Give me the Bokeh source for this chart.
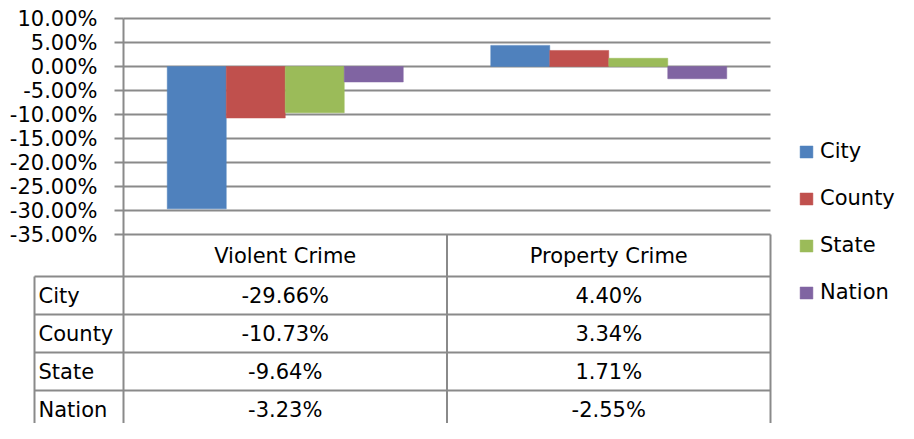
from bokeh.plotting import figure
from bokeh.models import (Range1d, LinearAxis, FixedTicker, NumeralTickFormatter,
                          Legend, LegendItem, ColumnDataSource)
from bokeh.core.properties import value
from bokeh.embed import file_html
from bokeh.resources import INLINE

# ---------------- data ----------------
CATEGORIES = ["Violent Crime", "Property Crime"]
SERIES = ["City", "County", "State", "Nation"]
CITY = [-29.66, 4.40]
COUNTY = [-10.73, 3.34]
STATE = [-9.64, 1.71]
NATION = [-3.23, -2.55]
COLORS = ["#4F81BD", "#C0504D", "#9BBB59", "#8064A2"]
TICKS = [-0.35, -0.30, -0.25, -0.20, -0.15, -0.10, -0.05, 0.0, 0.05, 0.10]

VALUES = [CITY, COUNTY, STATE, NATION]

# ---------------- layout constants (pixels) ----------------
W, H = 898, 423
CAT_PX = 323.5          # pixel width of one category
AXIS_PX = 123           # axis x inside figure
TOP_GRID_PX = 18        # top gridline y inside figure
PCT_PX = 480.0          # pixels per 1.0 (100%)
ROW_PX = 38.0
HEADER_PX = 42.0
TOP_VAL = 0.10
TABLE_TOP_PX = TOP_GRID_PX + (TOP_VAL - TICKS[0]) * PCT_PX

x_start = -AXIS_PX / CAT_PX
x_end = x_start + W / CAT_PX
y_top = TOP_VAL + TOP_GRID_PX / PCT_PX
y_bot = y_top - H / PCT_PX
rows_top = -TABLE_TOP_PX / ROW_PX
rows_bot = (H - TABLE_TOP_PX) / ROW_PX

GRID_C = "#8a8a8a"
FONT = "DejaVu Sans"
FS = "21px"

p = figure(width=W, height=H, output_backend="svg", toolbar_location=None,
           x_range=Range1d(x_start, x_end), y_range=Range1d(y_bot, y_top),
           x_axis_location=None, y_axis_location=None,
           min_border_left=0, min_border_top=0,
           min_border_right=0, min_border_bottom=0)
p.outline_line_color = None
p.grid.visible = False
p.background_fill_color = "white"
p.extra_y_ranges = {"rows": Range1d(start=rows_bot, end=rows_top)}

# gridlines
n_cat = len(CATEGORIES)
p.segment(x0=[0] * len(TICKS), x1=[n_cat] * len(TICKS), y0=TICKS, y1=TICKS,
          line_color=GRID_C, line_width=2)

# bars
bw = 59 / CAT_PX
items = []
for j, (name, vals, col) in enumerate(zip(SERIES, VALUES, COLORS)):
    xs = [i + 0.5 + (j - 1.5) * bw for i in range(n_cat)]
    src = ColumnDataSource(dict(x=xs, top=[v / 100 for v in vals]))
    r = p.vbar(x="x", top="top", bottom=0, width=bw, source=src,
               fill_color=col, line_color=col, line_width=0.5)
    items.append(LegendItem(label=name, renderers=[r]))

# y axis at x = 0
ax = LinearAxis(ticker=FixedTicker(ticks=TICKS),
                formatter=NumeralTickFormatter(format="0.00%"))
ax.fixed_location = 0
ax.bounds = (y_bot, TOP_VAL)
ax.axis_line_color = GRID_C
ax.axis_line_width = 2
ax.major_tick_line_color = GRID_C
ax.major_tick_line_width = 2
ax.major_tick_out = 9
ax.major_tick_in = 0
ax.minor_tick_line_color = None
ax.major_label_standoff = 17
ax.major_label_text_font = FONT
ax.major_label_text_font_size = FS
ax.major_label_text_color = "black"
p.add_layout(ax, "left")

# ---------------- data table ----------------
header_h = HEADER_PX / ROW_PX
row_edges = [header_h + k for k in range(len(SERIES))]
x_left = -(AXIS_PX - 34) / CAT_PX
big = rows_bot + 1
p.segment(x0=[x_left] * len(row_edges), x1=[n_cat] * len(row_edges),
          y0=row_edges, y1=row_edges, y_range_name="rows",
          line_color=GRID_C, line_width=2)
vx = list(range(1, n_cat + 1))
p.segment(x0=vx, x1=vx, y0=[0] * len(vx), y1=[big] * len(vx), y_range_name="rows",
          line_color=GRID_C, line_width=2)
p.segment(x0=[x_left], x1=[x_left], y0=[header_h], y1=[big], y_range_name="rows",
          line_color=GRID_C, line_width=2)

txt = dict(text_font=value(FONT), text_font_size=value(FS), text_color="black",
           text_baseline="middle", y_range_name="rows")
p.text(x=[i + 0.5 for i in range(n_cat)], y=[header_h / 2] * n_cat,
       text=CATEGORIES, text_align="center", **txt)
for k, (name, vals) in enumerate(zip(SERIES, VALUES)):
    yc = header_h + k + 0.5
    p.text(x=[x_left + 4 / CAT_PX], y=[yc], text=[name], text_align="left", **txt)
    p.text(x=[i + 0.5 for i in range(n_cat)], y=[yc] * n_cat,
           text=[f"{v:.2f}%" for v in vals], text_align="center", **txt)

# legend
leg = Legend(items=items, location=(798, 119), orientation="vertical",
             glyph_width=16, glyph_height=15, label_standoff=6, spacing=23,
             label_height=24, padding=0, margin=0, border_line_color=None,
             background_fill_alpha=0, label_text_font=FONT,
             label_text_font_size=FS, label_text_color="black")
p.add_layout(leg)

open("out.html", "w").write(file_html(p, INLINE))
